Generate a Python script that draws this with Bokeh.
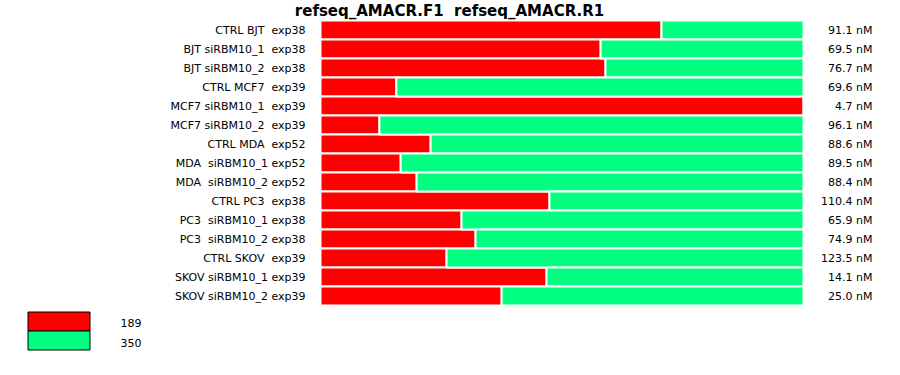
from bokeh.plotting import figure
from bokeh.models import Range1d, ColumnDataSource
from bokeh.core.properties import value
from bokeh.embed import file_html
from bokeh.resources import INLINE

title_text = "refseq_AMACR.F1  refseq_AMACR.R1"
samples = [
    "CTRL BJT  exp38", "BJT siRBM10_1  exp38", "BJT siRBM10_2  exp38",
    "CTRL MCF7  exp39", "MCF7 siRBM10_1  exp39", "MCF7 siRBM10_2  exp39",
    "CTRL MDA  exp52", "MDA  siRBM10_1 exp52", "MDA  siRBM10_2 exp52",
    "CTRL PC3  exp38", "PC3  siRBM10_1 exp38", "PC3  siRBM10_2 exp38",
    "CTRL SKOV  exp39", "SKOV siRBM10_1 exp39", "SKOV siRBM10_2 exp39",
]
frac_189 = [0.706, 0.580, 0.590, 0.157, 1.0, 0.122, 0.228, 0.166, 0.199,
            0.474, 0.292, 0.321, 0.261, 0.468, 0.375]
conc_nM = [91.1, 69.5, 76.7, 69.6, 4.7, 96.1, 88.6, 89.5, 88.4,
           110.4, 65.9, 74.9, 123.5, 14.1, 25.0]
alleles = ["189", "350"]
colors = ["#FF0000", "#00FF80"]

# ---- layout constants (pixels) ----
W, H = 884, 359
X0, PX = 320.0, 483.0      # pixel of fraction 0, pixels per unit fraction
Y0, ROW = 29.5, 19.0       # pixel of first row centre, pixels per row


def dx(px):
    return (px - X0) / PX


def dy(py):
    return (py - Y0) / ROW


def keep_spaces(s):
    return s.replace("  ", " \u00a0")


FONT = value("DejaVu Sans")

src = ColumnDataSource(dict(
    row=list(range(len(samples))),
    label=[keep_spaces(s) for s in samples],
    f189=frac_189,
    one=[1.0] * len(samples),
    conc=[f"{v:.1f} nM" for v in conc_nM],
))

p = figure(width=W, height=H,
           x_range=Range1d(dx(0), dx(W)),
           y_range=Range1d(dy(H), dy(0)),
           x_axis_location=None, y_axis_location=None,
           output_backend="svg", toolbar_location=None,
           min_border=0, min_border_left=0, min_border_right=0,
           min_border_top=0, min_border_bottom=0)
p.outline_line_color = None
p.grid.visible = False
p.background_fill_color = "white"
p.border_fill_color = "white"

p.hbar(y="row", left=0, right="f189", height=1.0, source=src,
       fill_color=colors[0], line_color="white", line_width=2)
p.hbar(y="row", left="f189", right="one", height=1.0, source=src,
       fill_color=colors[1], line_color="white", line_width=2)

p.text(x=dx(305), y="row", text="label", source=src,
       text_align="right", text_baseline="middle",
       text_font=FONT, text_font_size="11px", text_color="black")
p.text(x=dx(872), y="row", text="conc", source=src,
       text_align="right", text_baseline="middle",
       text_font=FONT, text_font_size="11px", text_color="black")

p.text(x=[dx(449)], y=[dy(10)], text=[keep_spaces(title_text)],
       text_align="center", text_baseline="middle",
       text_font=FONT, text_font_size="15px", text_font_style="bold",
       text_color="black")

# legend
leg_src = ColumnDataSource(dict(
    name=alleles, color=colors,
    left=[dx(27.5)] * 2, right=[dx(89.5)] * 2,
    top=[dy(311.5), dy(330.5)], bottom=[dy(330.5), dy(349.5)],
    tx=[dx(120)] * 2, ty=[dy(322), dy(342)],
))
p.quad(left="left", right="right", top="top", bottom="bottom", source=leg_src,
       fill_color="color", line_color="black", line_width=1)
p.text(x="tx", y="ty", text="name", source=leg_src,
       text_align="left", text_baseline="middle",
       text_font=FONT, text_font_size="11px", text_color="black")

open("out.html", "w").write(file_html(p, INLINE))
